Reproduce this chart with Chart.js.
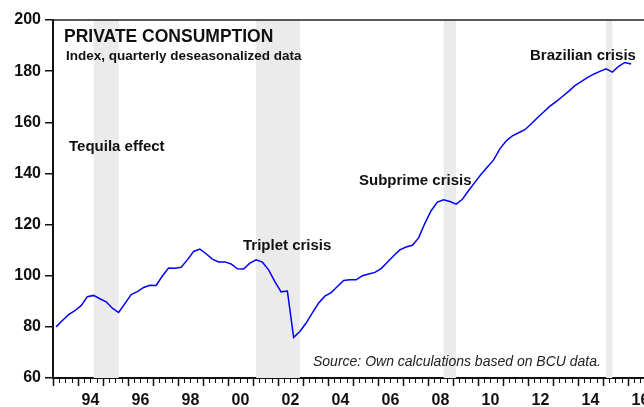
<!DOCTYPE html>
<html><head><meta charset="utf-8">
<script src="https://cdn.jsdelivr.net/npm/chart.js@4"></script>
<style>html,body{margin:0;padding:0;background:#fff;overflow:hidden}#wrap{width:644px;height:407px;position:relative}</style>
</head><body><div id="wrap"><canvas id="c"></canvas></div>
<script>
// ---- data ----
const firstYear = 1993, firstQuarter = 1;
const consumption = [
 80.0, 82.5, 84.8, 86.3, 88.3, 91.8, 92.3, 91.0, 89.8, 87.3,
 85.6, 89.1, 92.6, 93.8, 95.4, 96.3, 96.2, 99.9, 103.0, 102.9,
 103.3, 106.2, 109.5, 110.4, 108.6, 106.5, 105.4, 105.4, 104.6, 102.7,
 102.6, 104.9, 106.2, 105.3, 102.3, 97.7, 93.7, 94.0, 75.9, 78.2,
 81.5, 85.5, 89.3, 92.0, 93.4, 95.8, 98.1, 98.4, 98.4, 100.0,
 100.7, 101.3, 102.8, 105.3, 107.8, 110.1, 111.2, 111.9, 114.8, 120.5,
 125.4, 128.8, 129.7, 129.0, 128.0, 129.9, 133.3, 136.5, 139.7, 142.5,
 145.3, 149.6, 152.7, 154.7, 155.9, 157.1, 159.3, 161.8, 164.0, 166.3,
 168.1, 170.1, 172.1, 174.3, 175.9, 177.5, 178.8, 179.9, 180.9, 179.6,
 181.9, 183.4, 182.8
];
const tickYears = [1994,1996,1998,2000,2002,2004,2006,2008,2010,2012,2014,2016];
const tickLabels = ['94','96','98','00','02','04','06','08','10','12','14','16'];
const yTicks = [60,80,100,120,140,160,180,200];
const crisisStart = ['1994Q3','2001Q1','2008Q3','2015Q1'];
const crisisEnd   = ['1995Q3','2002Q4','2009Q1','2015Q2'];
const crisisNames = ['Tequila effect','Triplet crisis','Subprime crisis','Brazilian crisis'];
const titleText = 'PRIVATE CONSUMPTION';
const subtitleText = 'Index, quarterly deseasonalized data';
const sourceText = 'Source: Own calculations based on BCU data.';

// ---- helpers ----
function qPos(label){ const y=+label.slice(0,4), q=+label.slice(5); return y+(q-1)/4+0.125; }
const points = consumption.map((v,i)=>({x: firstYear+(firstQuarter-1)/4+0.125+0.25*i, y:v}));
const FONT = "Arial, 'Liberation Sans', sans-serif";
const XMIN = 1993, XMAX = 1993 + (644-53)/25;

const bandsPlugin = {
  id:'bands',
  beforeDatasetsDraw(chart){
    const {ctx, chartArea:a, scales:{x}} = chart;
    ctx.save(); ctx.fillStyle='#ebebeb';
    crisisStart.forEach((s,i)=>{
      const x0=x.getPixelForValue(qPos(s)), x1=x.getPixelForValue(qPos(crisisEnd[i]));
      ctx.fillRect(x0,a.top,x1-x0,a.bottom-a.top);
    });
    ctx.restore();
  }
};
const decoPlugin = {
  id:'deco',
  afterDraw(chart){
    const {ctx, chartArea:a, scales:{x}} = chart;
    ctx.save();
    // top frame
    ctx.strokeStyle='#222'; ctx.lineWidth=1.5;
    ctx.beginPath(); ctx.moveTo(a.left,a.top); ctx.lineTo(a.right,a.top); ctx.stroke();
    // quarter ticks
    ctx.strokeStyle='#111';
    for(let q=Math.ceil(XMIN*4); q<=Math.floor(XMAX*4); q++){
      const v=q/4, px=Math.round(x.getPixelForValue(v))+0.5, major=(q%4===0);
      ctx.lineWidth = major?1.5:1;
      ctx.beginPath(); ctx.moveTo(px,a.bottom); ctx.lineTo(px,a.bottom+(major?8:5)); ctx.stroke();
    }
    // texts
    ctx.fillStyle='#111'; ctx.textAlign='left'; ctx.textBaseline='alphabetic';
    ctx.font='bold 17.5px '+FONT; ctx.fillText(titleText,64,42);
    ctx.font='bold 13.5px '+FONT; ctx.fillText(subtitleText,66,59.5);
    ctx.font='bold 15px '+FONT;
    const pos=[[69,151],[243,250],[359,185],[530,60]];
    crisisNames.forEach((n,i)=>ctx.fillText(n,pos[i][0],pos[i][1]));
    ctx.font='italic 14px '+FONT; ctx.fillStyle='#222';
    ctx.fillText(sourceText,313,366);
    ctx.restore();
  }
};

new Chart(document.getElementById('c'),{
  type:'line',
  data:{datasets:[{data:points, borderColor:'#0000ff', borderWidth:1.5, pointRadius:0, tension:0, fill:false}]},
  options:{
    responsive:true, maintainAspectRatio:false, animation:false, devicePixelRatio:1,
    layout:{padding:{top:20,left:0,right:0,bottom:0}},
    plugins:{legend:{display:false}, tooltip:{enabled:false}, title:{display:false}},
    scales:{
      x:{type:'linear', min:XMIN, max:XMAX,
         afterBuildTicks(s){ s.ticks = tickYears.map(y=>({value:y+0.5})); },
         afterFit(s){ s.height=29; s.paddingLeft=0; s.paddingRight=0; },
         grid:{display:false},
         border:{display:true,color:'#111',width:2},
         ticks:{autoSkip:false,maxRotation:0,minRotation:0,padding:5,color:'#111',
                font:{family:FONT,size:16,weight:'bold'},
                callback:(v,i)=>tickLabels[i]}},
      y:{min:60,max:200,
         afterBuildTicks(s){ s.ticks = yTicks.map(v=>({value:v})); },
         afterFit(s){ s.width=53; },
         grid:{display:true,drawOnChartArea:false,drawTicks:true,tickLength:8,color:'#111',lineWidth:1.5},
         border:{display:true,color:'#111',width:2},
         ticks:{padding:4,color:'#111',font:{family:FONT,size:16,weight:'bold'}}}
    }
  },
  plugins:[bandsPlugin,decoPlugin]
});
</script></body></html>
